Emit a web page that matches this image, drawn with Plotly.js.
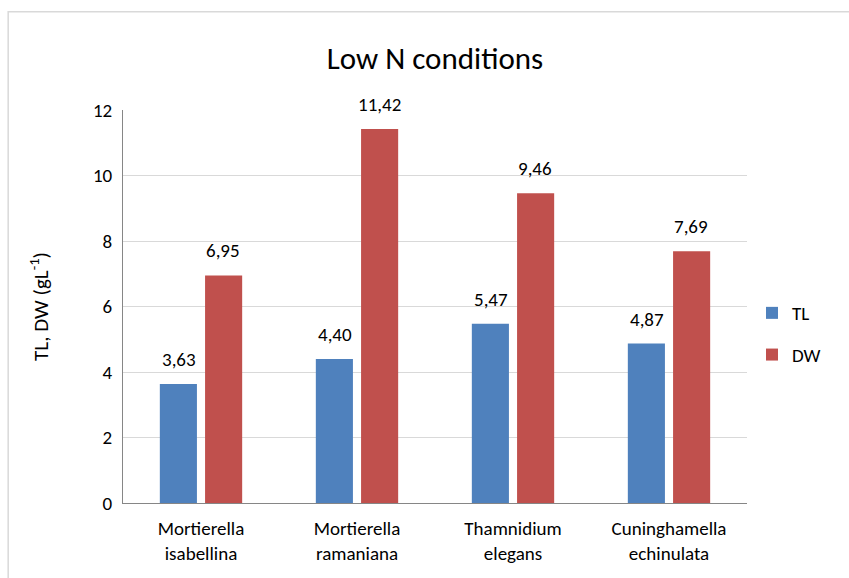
<!DOCTYPE html>
<html>
<head>
<meta charset="utf-8">
<script src="https://cdn.plot.ly/plotly-3.0.1.min.js"></script>
<style>html,body{margin:0;padding:0;background:#fff;}#chart{width:849px;height:578px;}</style>
</head>
<body>
<div id="chart"></div>
<script>
const categories = ["Mortierella<br>isabellina", "Mortierella<br>ramaniana", "Thamnidium<br>elegans", "Cuninghamella<br>echinulata"];
const tlValues = [3.63, 4.40, 5.47, 4.87];
const dwValues = [6.95, 11.42, 9.46, 7.69];
const yTicks = [0, 2, 4, 6, 8, 10, 12];

const FONT = "Carlito, Lato, 'Open Sans', sans-serif";
const fmt = v => v.toFixed(2).replace('.', ',');

const traces = [
  {type: 'bar', name: 'TL', x: categories, y: tlValues, marker: {color: '#4F81BD'}, legendgroup: 'a', hoverinfo: 'skip'},
  {type: 'bar', name: 'DW', x: categories, y: dwValues, marker: {color: '#C0504D'}, legendgroup: 'b', hoverinfo: 'skip'}
];

const annotations = [];
categories.forEach((c, i) => {
  annotations.push({x: c, y: tlValues[i], text: fmt(tlValues[i]), xref: 'x', yref: 'y', showarrow: false, xshift: -22, yanchor: 'bottom', yshift: 11, font: {family: FONT, size: 19, color: '#000'}});
  annotations.push({x: c, y: dwValues[i], text: fmt(dwValues[i]), xref: 'x', yref: 'y', showarrow: false, xshift: 22, yanchor: 'bottom', yshift: 11, font: {family: FONT, size: 19, color: '#000'}});
});

const layout = {
  width: 849, height: 578,
  margin: {l: 123, r: 102, t: 110, b: 75},
  paper_bgcolor: '#fff', plot_bgcolor: '#fff',
  font: {family: FONT, color: '#000'},
  title: {text: 'Low N conditions', font: {family: FONT, size: 31, color: '#000'}, x: 0.5, xref: 'paper', y: 0.9, yref: 'container', yanchor: 'middle'},
  barmode: 'group', bargap: 0.42, bargroupgap: 0.18,
  xaxis: {showline: true, linecolor: '#868686', linewidth: 1, ticks: '', ticklabelstandoff: 8, tickfont: {family: FONT, size: 19, color: '#000'}, fixedrange: true},
  yaxis: {range: [0, 12], tickvals: yTicks, ticktext: yTicks.map(String), showgrid: true, gridcolor: '#d9d9d9', showline: true, linecolor: '#868686', linewidth: 1, zeroline: false, ticks: '', ticklen: 0, ticklabelstandoff: 6, tickfont: {family: FONT, size: 19, color: '#000'},
    title: {text: 'TL, DW (gL<sup>-1</sup>)', font: {family: FONT, size: 21, color: '#000'}, standoff: 38}},
  legend: {x: 1.008, xanchor: 'left', y: 0.43, yanchor: 'middle', font: {family: FONT, size: 19, color: '#000'}, traceorder: 'grouped', tracegroupgap: 14, itemclick: false},
  annotations: annotations,
  shapes: [{type: 'rect', xref: 'paper', yref: 'paper', x0: -0.184, x1: 1.4, y0: -0.4, y1: 1.25, line: {color: '#d9d9d9', width: 1.5}, fillcolor: 'rgba(0,0,0,0)', layer: 'below'}]
};

Plotly.newPlot('chart', traces, layout, {staticPlot: true, displayModeBar: false});
</script>
</body>
</html>
